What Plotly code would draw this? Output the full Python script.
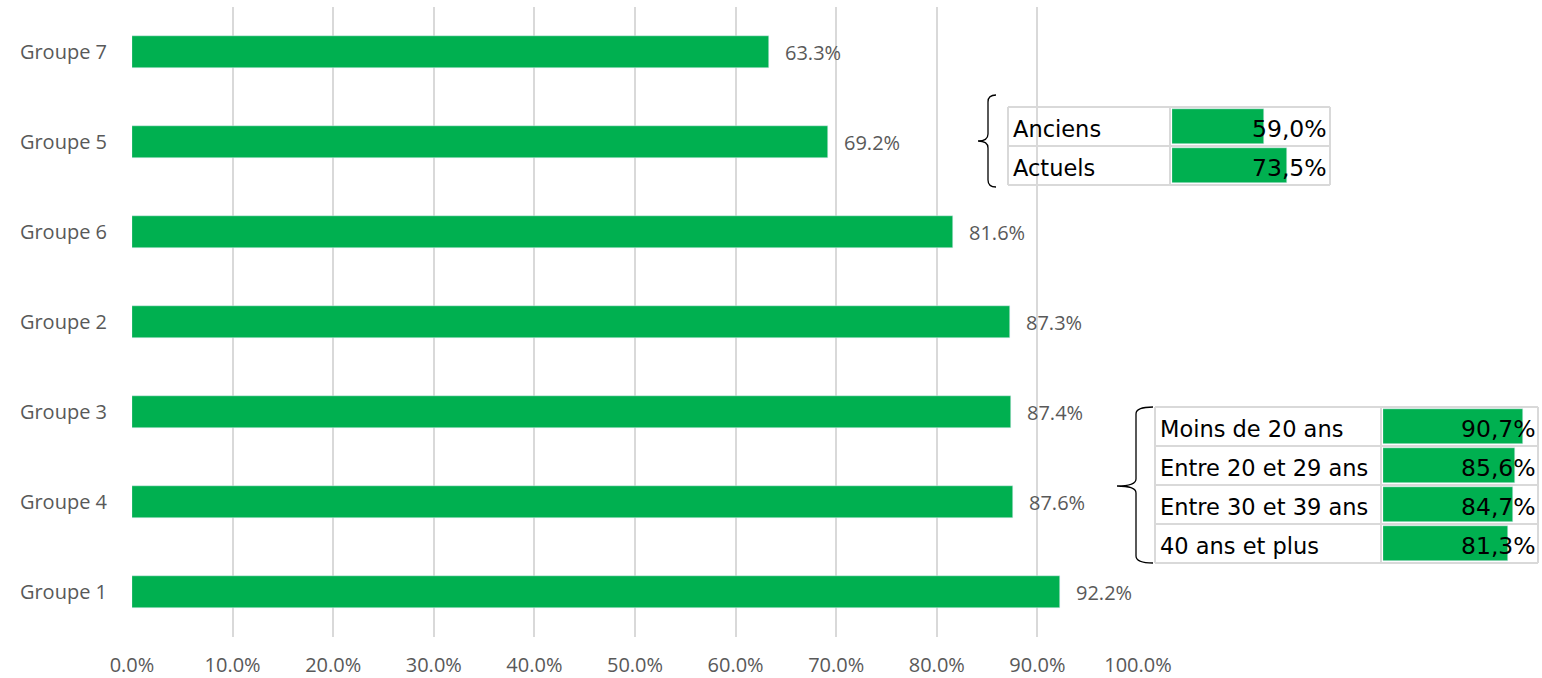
import plotly.graph_objects as go

# main chart data (top to bottom)
groupes = ["Groupe 7", "Groupe 5", "Groupe 6", "Groupe 2", "Groupe 3", "Groupe 4", "Groupe 1"]
taux = [0.633, 0.692, 0.816, 0.873, 0.874, 0.876, 0.922]

# side table 1
statut = ["Anciens", "Actuels"]
taux_statut = [0.590, 0.735]

# side table 2
ages = ["Moins de 20 ans", "Entre 20 et 29 ans", "Entre 30 et 39 ans", "40 ans et plus"]
taux_ages = [0.907, 0.856, 0.847, 0.813]

x_ticks = [i / 10 for i in range(11)]

W, H = 1542, 678
ML, MR, MT, MB = 132, 4, 7, 41
PW, PH = W - ML - MR, H - MT - MB

GREEN = "#00B050"
GRID = "#D9D9D9"
TXT = "#595959"
FONT = "Open Sans"
TFONT = "DejaVu Sans"


def px(x):
    return (x - ML) / PW


def py(y):
    return 1 - (y - MT) / PH


def pct_fr(v):
    return f"{v * 100:.1f}%".replace(".", ",")


fig = go.Figure()

fig.add_trace(go.Bar(
    y=groupes, x=taux, orientation="h", marker_color=GREEN, width=0.356,
    xaxis="x", yaxis="y", showlegend=False, hoverinfo="x+y",
))
fig.add_trace(go.Bar(
    y=statut, x=taux_statut, orientation="h", marker_color=GREEN, width=0.9,
    xaxis="x2", yaxis="y2", showlegend=False,
))
fig.add_trace(go.Bar(
    y=ages, x=taux_ages, orientation="h", marker_color=GREEN, width=0.9,
    xaxis="x3", yaxis="y3", showlegend=False,
))

annotations = []
for g, v in zip(groupes, taux):
    annotations.append(dict(
        x=v, y=g, xref="x", yref="y", text=f"{v * 100:.1f}%", showarrow=False,
        xanchor="left", xshift=14, font=dict(family=FONT, size=20, color=TXT),
    ))


def table(labels, values, xl, xm, xr, ytop, row_h, xa, ya):
    shapes = []
    ybot = ytop + row_h * len(labels)
    for i in range(len(labels) + 1):
        yy = ytop + row_h * i
        shapes.append(dict(type="line", xref="paper", yref="paper",
                           x0=px(xl), x1=px(xr), y0=py(yy), y1=py(yy),
                           line=dict(color=GRID, width=2)))
    for xx in (xl, xm, xr):
        shapes.append(dict(type="line", xref="paper", yref="paper",
                           x0=px(xx), x1=px(xx), y0=py(ytop), y1=py(ybot),
                           line=dict(color=GRID, width=2)))
    for lab, v in zip(labels, values):
        annotations.append(dict(
            x=px(xl + 3), y=lab, xref="paper", yref=ya, text=lab, showarrow=False,
            xanchor="left", yshift=-2, font=dict(family=TFONT, size=22.5, color="black"),
        ))
        annotations.append(dict(
            x=1, y=lab, xref=xa, yref=ya, text=pct_fr(v), showarrow=False,
            xanchor="right", xshift=1, yshift=-2,
            font=dict(family=TFONT, size=23.5, color="black"),
        ))
    return shapes


shapes = []
shapes += table(statut, taux_statut, 1008, 1170, 1330, 107, 39, "x2", "y2")
shapes += table(ages, taux_ages, 1155, 1381, 1538, 407, 39, "x3", "y3")


def brace(xe, xs, xt, yt, ym, yb):
    p = [(xe, yt), (xs, yt), (xs, yt + 7), (xs, ym - 7), (xs, ym), (xt, ym), (xs, ym),
         (xs, ym + 7), (xs, yb - 7), (xs, yb), (xe, yb)]
    q = [(px(a), py(b)) for a, b in p]
    path = (f"M {q[0][0]},{q[0][1]} Q {q[1][0]},{q[1][1]} {q[2][0]},{q[2][1]} "
            f"L {q[3][0]},{q[3][1]} Q {q[4][0]},{q[4][1]} {q[5][0]},{q[5][1]} "
            f"Q {q[6][0]},{q[6][1]} {q[7][0]},{q[7][1]} "
            f"L {q[8][0]},{q[8][1]} Q {q[9][0]},{q[9][1]} {q[10][0]},{q[10][1]}")
    return dict(type="path", xref="paper", yref="paper", path=path,
                line=dict(color="black", width=1.3))


shapes.append(brace(996, 988, 978, 95, 141, 187))
shapes.append(brace(1153, 1136, 1117, 407, 486, 563))

fig.update_layout(
    width=W, height=H, autosize=False,
    margin=dict(l=ML, r=MR, t=MT, b=MB, autoexpand=False),
    plot_bgcolor="white", paper_bgcolor="white",
    font=dict(family=FONT, size=16, color=TXT),
    bargap=0,
    xaxis=dict(domain=[0, px(1138)], range=[0, 1], tickvals=x_ticks, tickformat=".1%",
               showgrid=True, gridcolor=GRID, gridwidth=2, zeroline=False, showline=False,
               ticklabelstandoff=14, tickfont=dict(size=20, color=TXT), automargin=False),
    yaxis=dict(domain=[0, 1], autorange="reversed", showgrid=False, zeroline=False,
               ticklabelstandoff=24, tickfont=dict(size=20, color=TXT), automargin=False),
    xaxis2=dict(domain=[px(1172), px(1328)], range=[0, 1], visible=False, anchor="y2"),
    yaxis2=dict(domain=[py(185), py(107)], autorange="reversed", visible=False, anchor="x2"),
    xaxis3=dict(domain=[px(1383), px(1537)], range=[0, 1], visible=False, anchor="y3"),
    yaxis3=dict(domain=[py(563), py(407)], autorange="reversed", visible=False, anchor="x3"),
    shapes=shapes,
    annotations=annotations,
)

fig.write_html("out.html", config={"responsive": False, "displayModeBar": False},
               post_script="document.body.style.margin='0px';")
